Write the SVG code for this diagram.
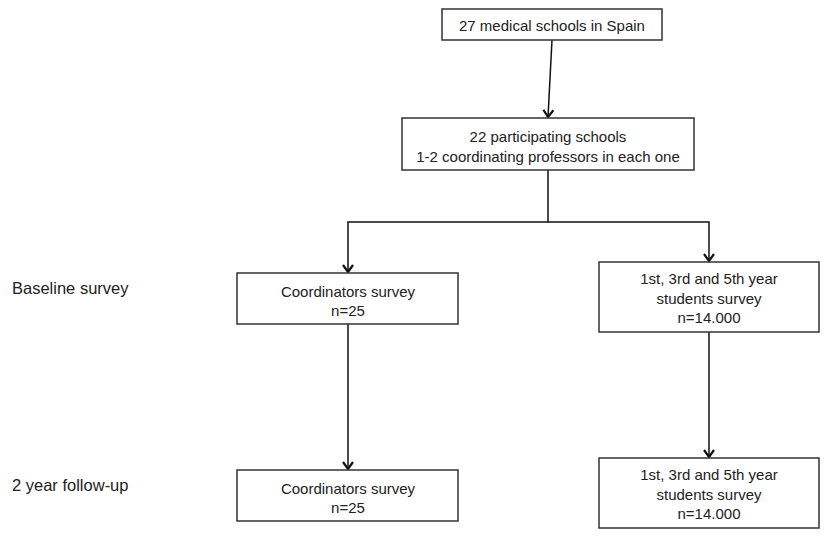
<svg xmlns="http://www.w3.org/2000/svg" width="825" height="539" viewBox="0 0 825 539">
<style>
.box{fill:#fff;stroke:#333;stroke-width:1.5}
.t{font-family:"Liberation Sans",Arial,sans-serif;font-size:15px;fill:#222;text-anchor:middle}
.lbl{font-family:"Liberation Sans",Arial,sans-serif;font-size:16.5px;fill:#222}
.c{fill:none;stroke:#111;stroke-width:1.5}
</style>
<defs>
<marker id="arr" viewBox="0 0 10 12" refX="9" refY="6" markerWidth="10" markerHeight="12" markerUnits="userSpaceOnUse" orient="auto">
<polyline points="2,1 9,6 2,11" fill="none" stroke="#111" stroke-width="2.2"/>
</marker>
</defs>
<rect width="825" height="539" fill="#fff"/>
<text class="lbl" x="12" y="294">Baseline survey</text>
<text class="lbl" x="12" y="491">2 year follow-up</text>
<g id="connectors">
<line class="c" x1="552" y1="40" x2="548" y2="117" marker-end="url(#arr)"/>
<polyline class="c" points="548,170 548,222 348,222 348,272" marker-end="url(#arr)"/>
<polyline class="c" points="548,222 709,222 709,261" marker-end="url(#arr)"/>
<line class="c" x1="348" y1="324" x2="348" y2="469" marker-end="url(#arr)"/>
<line class="c" x1="709" y1="332" x2="709" y2="457" marker-end="url(#arr)"/>
</g>
<g id="n1">
<rect class="box" x="442" y="9" width="220" height="31"/>
<text class="t" x="552" y="31">27 medical schools in Spain</text>
</g>
<g id="n2">
<rect class="box" x="402" y="118" width="292" height="52"/>
<text class="t" x="548" y="142">22 participating schools</text>
<text class="t" x="548" y="162">1-2 coordinating professors in each one</text>
</g>
<g id="n3">
<rect class="box" x="237" y="273" width="221" height="51"/>
<text class="t" x="348" y="297">Coordinators survey</text>
<text class="t" x="348" y="316">n=25</text>
</g>
<g id="n4">
<rect class="box" x="599" y="262" width="220" height="70"/>
<text class="t" x="709" y="284">1st, 3rd and 5th year</text>
<text class="t" x="709" y="304">students survey</text>
<text class="t" x="709" y="323">n=14.000</text>
</g>
<g id="n5">
<rect class="box" x="237" y="470" width="221" height="51"/>
<text class="t" x="348" y="494">Coordinators survey</text>
<text class="t" x="348" y="513">n=25</text>
</g>
<g id="n6">
<rect class="box" x="599" y="458" width="220" height="70"/>
<text class="t" x="709" y="480">1st, 3rd and 5th year</text>
<text class="t" x="709" y="500">students survey</text>
<text class="t" x="709" y="519">n=14.000</text>
</g>
</svg>
